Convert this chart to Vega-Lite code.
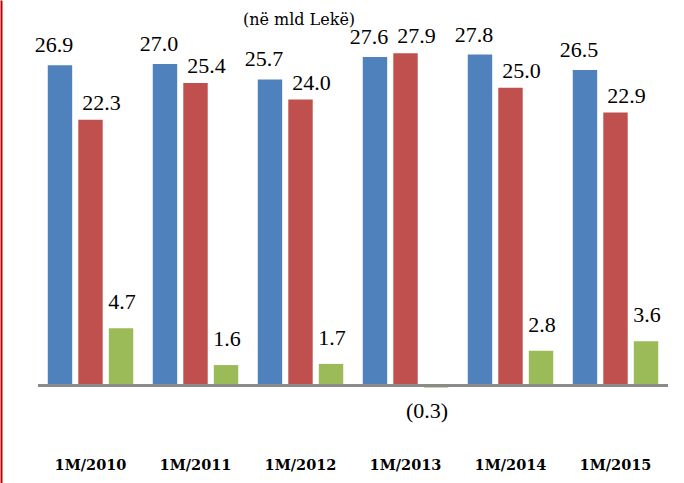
{
  "$schema": "https://vega.github.io/schema/vega-lite/v6.json",
  "autosize": "none",
  "width": 630,
  "height": 483,
  "padding": {"left": 38, "top": 0, "right": 16, "bottom": 0},
  "background": "white",
  "title": {
    "text": "(në mld Lekë)",
    "font": "DejaVu Serif",
    "fontSize": 16,
    "fontWeight": "normal",
    "color": "#000000",
    "anchor": "middle",
    "dx": -54,
    "dy": 32
  },
  "config": {"view": {"stroke": null}},
  "data": {
    "values": [
      {"period": "1M/2010", "series": "Të ardhurat", "value": 26.9},
      {"period": "1M/2010", "series": "Shpenzimet", "value": 22.3},
      {"period": "1M/2010", "series": "Bilanci", "value": 4.7},
      {"period": "1M/2011", "series": "Të ardhurat", "value": 27.0},
      {"period": "1M/2011", "series": "Shpenzimet", "value": 25.4},
      {"period": "1M/2011", "series": "Bilanci", "value": 1.6},
      {"period": "1M/2012", "series": "Të ardhurat", "value": 25.7},
      {"period": "1M/2012", "series": "Shpenzimet", "value": 24.0},
      {"period": "1M/2012", "series": "Bilanci", "value": 1.7},
      {"period": "1M/2013", "series": "Të ardhurat", "value": 27.6},
      {"period": "1M/2013", "series": "Shpenzimet", "value": 27.9},
      {"period": "1M/2013", "series": "Bilanci", "value": -0.3},
      {"period": "1M/2014", "series": "Të ardhurat", "value": 27.8},
      {"period": "1M/2014", "series": "Shpenzimet", "value": 25.0},
      {"period": "1M/2014", "series": "Bilanci", "value": 2.8},
      {"period": "1M/2015", "series": "Të ardhurat", "value": 26.5},
      {"period": "1M/2015", "series": "Shpenzimet", "value": 22.9},
      {"period": "1M/2015", "series": "Bilanci", "value": 3.6}
    ]
  },
  "encoding": {
    "x": {
      "field": "period",
      "type": "nominal",
      "scale": {"paddingInner": 0.186, "paddingOuter": 0.093},
      "axis": {
        "orient": "bottom",
        "offset": -25,
        "domain": false,
        "ticks": false,
        "grid": false,
        "title": null,
        "labelAngle": 0,
        "labelPadding": 0,
        "labelFont": "DejaVu Serif",
        "labelFontWeight": "bold",
        "labelFontSize": 14.5,
        "labelColor": "#000000"
      }
    },
    "xOffset": {
      "field": "series",
      "sort": ["Të ardhurat", "Shpenzimet", "Bilanci"],
      "scale": {"paddingInner": 0.2, "paddingOuter": 0}
    },
    "y": {
      "field": "value",
      "type": "quantitative",
      "scale": {"domain": [-8.35, 32.4], "nice": false, "zero": false},
      "axis": {
        "orient": "left",
        "offset": 37,
        "domainColor": "#C00000",
        "domainWidth": 2,
        "labels": false,
        "ticks": false,
        "grid": false,
        "title": null
      }
    }
  },
  "layer": [
    {
      "mark": {"type": "bar"},
      "encoding": {
        "y2": {"datum": 0},
        "color": {
          "field": "series",
          "type": "nominal",
          "scale": {"domain": ["Të ardhurat", "Shpenzimet", "Bilanci"], "range": ["#4F81BD", "#C0504D", "#9BBB59"]},
          "legend": null
        }
      }
    },
    {
      "mark": {"type": "rule", "color": "#8A8A8A", "strokeWidth": 3},
      "encoding": {"y": {"datum": -0.13}, "xOffset": null, "x": null}
    },
    {
      "transform": [{"filter": "datum.series === 'Të ardhurat'"}],
      "mark": {"type": "text", "font": "Liberation Serif", "fontSize": 22, "color": "#000000", "baseline": "middle", "dx": -6, "dy": -20},
      "encoding": {"text": {"field": "value", "format": "(.1f"}}
    },
    {
      "transform": [{"filter": "datum.series === 'Shpenzimet'"}],
      "mark": {"type": "text", "font": "Liberation Serif", "fontSize": 22, "color": "#000000", "baseline": "middle", "dx": 11, "dy": -17},
      "encoding": {"text": {"field": "value", "format": "(.1f"}}
    },
    {
      "transform": [{"filter": "datum.series === 'Bilanci' && datum.value >= 0"}],
      "mark": {"type": "text", "font": "Liberation Serif", "fontSize": 22, "color": "#000000", "baseline": "middle", "dx": 1, "dy": -26},
      "encoding": {"text": {"field": "value", "format": "(.1f"}}
    },
    {
      "transform": [{"filter": "datum.series === 'Bilanci' && datum.value < 0"}],
      "mark": {"type": "text", "font": "Liberation Serif", "fontSize": 22, "color": "#000000", "baseline": "middle", "dx": -9, "dy": 23},
      "encoding": {"text": {"field": "value", "format": "(.1f"}}
    }
  ]
}
